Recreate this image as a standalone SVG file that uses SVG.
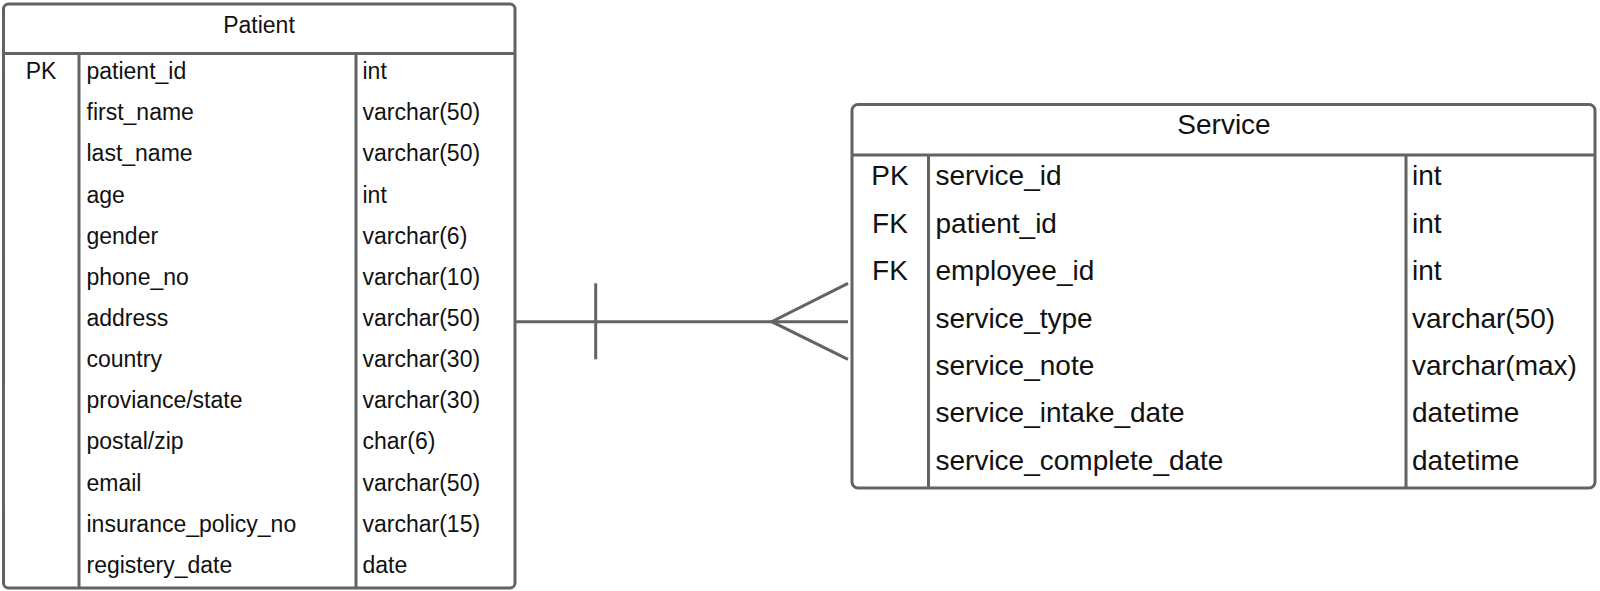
<svg xmlns="http://www.w3.org/2000/svg" width="1600" height="591" viewBox="0 0 1600 591">
<style>
.box{fill:#fff;stroke:#636363;stroke-width:3}
.ln{stroke:#636363;stroke-width:3;fill:none}
.p{font-family:"Liberation Sans",Arial,sans-serif;font-size:23px;fill:#111}
.s{font-family:"Liberation Sans",Arial,sans-serif;font-size:28px;fill:#111}
.c{text-anchor:middle}
</style>
<rect width="1600" height="591" fill="#fff"/>
<g id="patient">
<rect class="box" x="3.5" y="4" width="511.5" height="584" rx="5"/>
<line class="ln" x1="3.5" y1="53.5" x2="515" y2="53.5"/>
<line class="ln" x1="79" y1="53.5" x2="79" y2="588"/>
<line class="ln" x1="356" y1="53.5" x2="356" y2="588"/>
<text class="p c" x="259" y="32.5">Patient</text>
<text class="p c" x="41" y="79">PK</text>
<g class="p">
<text x="86.5" y="79">patient_id</text>
<text x="86.5" y="120.2">first_name</text>
<text x="86.5" y="161.3">last_name</text>
<text x="86.5" y="202.5">age</text>
<text x="86.5" y="243.6">gender</text>
<text x="86.5" y="284.8">phone_no</text>
<text x="86.5" y="325.9">address</text>
<text x="86.5" y="367.1">country</text>
<text x="86.5" y="408.2">proviance/state</text>
<text x="86.5" y="449.4">postal/zip</text>
<text x="86.5" y="490.5">email</text>
<text x="86.5" y="531.7">insurance_policy_no</text>
<text x="86.5" y="572.8">registery_date</text>
<text x="362.5" y="79">int</text>
<text x="362.5" y="120.2">varchar(50)</text>
<text x="362.5" y="161.3">varchar(50)</text>
<text x="362.5" y="202.5">int</text>
<text x="362.5" y="243.6">varchar(6)</text>
<text x="362.5" y="284.8">varchar(10)</text>
<text x="362.5" y="325.9">varchar(50)</text>
<text x="362.5" y="367.1">varchar(30)</text>
<text x="362.5" y="408.2">varchar(30)</text>
<text x="362.5" y="449.4">char(6)</text>
<text x="362.5" y="490.5">varchar(50)</text>
<text x="362.5" y="531.7">varchar(15)</text>
<text x="362.5" y="572.8">date</text>
</g>
</g>
<g id="service">
<rect class="box" x="852" y="104.5" width="743" height="383.5" rx="6"/>
<line class="ln" x1="852" y1="155" x2="1595" y2="155"/>
<line class="ln" x1="928.5" y1="155" x2="928.5" y2="488"/>
<line class="ln" x1="1406" y1="155" x2="1406" y2="488"/>
<text class="s c" x="1224" y="134">Service</text>
<text class="s c" x="890" y="185.3">PK</text>
<text class="s c" x="890" y="232.7">FK</text>
<text class="s c" x="890" y="280.1">FK</text>
<g class="s">
<text x="935.5" y="185.3">service_id</text>
<text x="935.5" y="232.7">patient_id</text>
<text x="935.5" y="280.1">employee_id</text>
<text x="935.5" y="327.5">service_type</text>
<text x="935.5" y="374.9">service_note</text>
<text x="935.5" y="422.3">service_intake_date</text>
<text x="935.5" y="469.7">service_complete_date</text>
<text x="1412" y="185.3">int</text>
<text x="1412" y="232.7">int</text>
<text x="1412" y="280.1">int</text>
<text x="1412" y="327.5">varchar(50)</text>
<text x="1412" y="374.9">varchar(max)</text>
<text x="1412" y="422.3">datetime</text>
<text x="1412" y="469.7">datetime</text>
</g>
</g>
<g id="connectors">
<line class="ln" x1="515" y1="321.7" x2="848" y2="321.7"/>
<line class="ln" x1="595.7" y1="283.3" x2="595.7" y2="359.3"/>
<polyline class="ln" points="848,283.3 771.7,321.7 848,359.3"/>
</g>
</svg>
